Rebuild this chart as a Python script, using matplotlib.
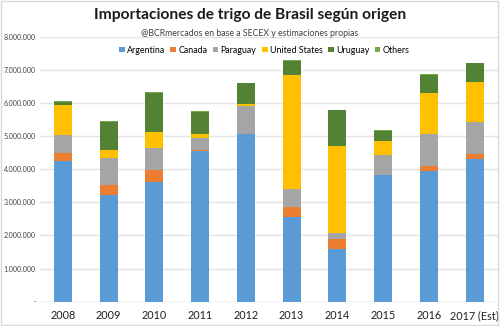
import matplotlib.pyplot as plt
from matplotlib.patches import Rectangle
from matplotlib.ticker import FuncFormatter
import numpy as np

plt.rcParams['font.family'] = ['Lato', 'DejaVu Sans']

years = ['2008', '2009', '2010', '2011', '2012', '2013', '2014', '2015', '2016', '2017 (Est)']

# toneladas
argentina = [4250000, 3220000, 3620000, 4550000, 5060000, 2550000, 1580000, 3820000, 3940000, 4310000]
canada = [250000, 300000, 370000, 40000, 10000, 320000, 310000, 10000, 160000, 160000]
paraguay = [530000, 830000, 640000, 360000, 830000, 530000, 190000, 590000, 960000, 950000]
united_states = [910000, 220000, 500000, 120000, 80000, 3460000, 2620000, 440000, 1230000, 1220000]
uruguay = [100000, 860000, 1180000, 670000, 620000, 410000, 1080000, 300000, 570000, 560000]
others = [20000, 20000, 20000, 20000, 20000, 20000, 20000, 20000, 20000, 20000]

series = [('Argentina', argentina, '#5B9BD5'),
          ('Canada', canada, '#ED7D31'),
          ('Paraguay', paraguay, '#A5A5A5'),
          ('United States', united_states, '#FFC000'),
          ('Uruguay', uruguay, '#548235'),
          ('Others', others, '#70AD47')]


def fmt(v, pos):
    if v == 0:
        return '-'
    return '{:,.0f}'.format(v).replace(',', '.')


fig = plt.figure(figsize=(5, 3.26), dpi=100)
fig.patches.append(Rectangle((0.002, 0.003), 0.994, 0.994, transform=fig.transFigure,
                             fill=False, edgecolor='#D9D9D9', linewidth=1))
ax = fig.add_axes([0.08, 0.0745, 0.915, 0.8125])

x = np.arange(len(years))
bottom = np.zeros(len(years))
for name, vals, color in series:
    ax.bar(x, vals, 0.39, bottom=bottom, color=color, label=name, zorder=3)
    bottom += np.array(vals)

ax.set_ylim(0, 8000000)
ax.set_xlim(-0.5, len(years) - 0.5)
ax.set_yticks(np.arange(0, 8000001, 1000000))
ax.yaxis.set_major_formatter(FuncFormatter(fmt))
ax.set_xticks(x)
ax.set_xticklabels(years, fontsize=7.8)
ax.tick_params(axis='y', labelsize=5, length=0, pad=3, colors='#404040')
ax.tick_params(axis='x', length=0, pad=6, colors='#202020')
ax.grid(axis='y', color='#E3E3E3', linewidth=1, zorder=0)
for s in ax.spines.values():
    s.set_visible(False)
ax.axhline(0, color='#D9D9D9', linewidth=1, zorder=2)

fig.text(0.5, 0.953, 'Importaciones de trigo de Brasil según origen', ha='center', va='center',
         fontsize=11.2, fontweight='bold', color='#1a1a1a')
fig.text(0.5, 0.898, '@BCRmercados en base a SECEX y estimaciones propias', ha='center', va='center',
         fontsize=6.3, color='#404040')

ax.legend(loc='upper center', bbox_to_anchor=(0.49, 0.997), ncol=6, frameon=False, fontsize=6.4,
          handlelength=0.65, handleheight=0.65, handletextpad=0.25, columnspacing=0.6)

fig.savefig('out.png', dpi=100)
